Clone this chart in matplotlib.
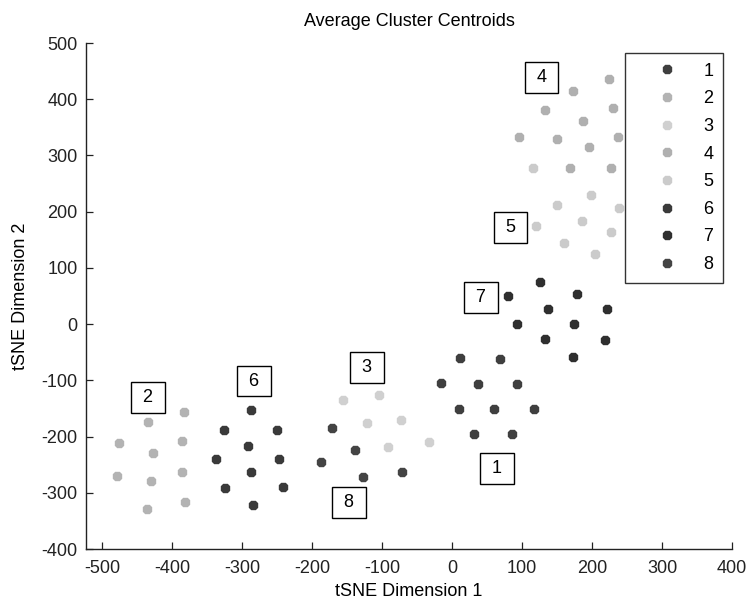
import matplotlib
matplotlib.use("Agg")
import matplotlib.pyplot as plt

# ---- data ----
cluster_names = ["1", "2", "3", "4", "5", "6", "7", "8"]
colors = ["#3f3f3f", "#b3b3b3", "#d0d0d0", "#b0b0b0", "#cbcbcb", "#3a3a3a", "#2f2f2f", "#444444"]

x1 = [11.4, 68.6, -16.1, 37.6, 92.4, 10.4, 60.4, 117.6, 31.4, 85.7]
y1 = [-60.8, -62.6, -105.3, -107.1, -107.1, -151, -151, -151, -195.5, -195.5]

x2 = [-382.9, -433.9, -476.1, -385.3, -427.6, -478.1, -385.3, -430.0, -381.0, -435.7]
y2 = [-155.8, -173.6, -211.3, -208.0, -229.3, -269.7, -263.6, -279.1, -316.4, -329.4]

x3 = [-156.1, -103.9, -121.9, -73.3, -91.0, -32.9]
y3 = [-135.0, -126.1, -176.4, -170.6, -219.1, -210.2]

x4 = [223.9, 172.9, 132.9, 230.0, 187.6, 96.1, 149.6, 236.7, 196.1, 168.6, 227.6]
y4 = [436.0, 415.2, 380.8, 383.8, 361.8, 333.3, 328.7, 333.3, 314.5, 278.2, 278.2]

x5 = [115.3, 198.6, 149.6, 238.6, 120.0, 185.7, 227.6, 160.0, 204.3]
y5 = [278.2, 230.2, 211.8, 207.0, 175.0, 183.4, 164.4, 143.7, 124.7]

x6 = [-287.6, -325.7, -249.6, -291.4, -336.7, -247.1, -287.6, -323.9, -241.0, -283.9]
y6 = [-152.8, -187.8, -187.8, -216.3, -240.0, -240.0, -263.6, -292.1, -290.3, -321.8]

x7 = [125.7, 79.6, 179.0, 136.7, 221.9, 92.4, 174.7, 132.9, 219.0, 172.9]
y7 = [74.4, 50.5, 53.5, 26.3, 26.3, 0.7, 0.7, -26.0, -28.3, -58.0]

x8 = [-171.4, -138.6, -187.6, -126.7, -71.0]
y8 = [-185.3, -224.0, -245.8, -271.4, -263.6]

label_x = [64.7, -433.9, -121.9, 127.9, 83.6, -283.1, 41.4, -147.4]
label_y = [-257.4, -130.6, -77.7, 438.6, 171.5, -101.2, 46.8, -317.3]

xs = [x1, x2, x3, x4, x5, x6, x7, x8]
ys = [y1, y2, y3, y4, y5, y6, y7, y8]

x_ticks = [-500, -400, -300, -200, -100, 0, 100, 200, 300, 400]
y_ticks = [-400, -300, -200, -100, 0, 100, 200, 300, 400, 500]

# ---- fonts ----
plt.rcParams["font.family"] = ["Liberation Sans", "DejaVu Sans"]
plt.rcParams["axes.unicode_minus"] = False
fs = 13

W, H = 749, 605
fig = plt.figure(figsize=(W / 100, H / 100), dpi=100)
ax = fig.add_axes([86 / W, 1 - 549 / H, (732 - 86) / W, (549 - 43) / H])

for name, c, xv, yv in zip(cluster_names, colors, xs, ys):
    ax.plot(xv, yv, linestyle="none", marker="8", markersize=6.0,
            color=c, markeredgecolor=c, label=name)

for name, lx, ly in zip(cluster_names, label_x, label_y):
    ax.text(lx, ly, " " + name + " ", ha="center", va="center", fontsize=fs,
            bbox=dict(boxstyle="square,pad=0.38", fc="white", ec="black", lw=1.0))

ax.set_xlim(-523, 400)
ax.set_ylim(-400, 500)
ax.set_xticks(x_ticks)
ax.set_yticks(y_ticks)
ax.tick_params(direction="in", length=4.7, width=0.9, labelsize=fs, pad=8, colors="#222222")
ax.tick_params(axis="y", pad=6)
for s in ["top", "right"]:
    ax.spines[s].set_visible(False)
for s in ["left", "bottom"]:
    ax.spines[s].set_linewidth(1.0)
    ax.spines[s].set_color("#222222")

ax.set_title("Average Cluster Centroids", fontsize=fs, pad=12)
ax.set_xlabel("tSNE Dimension 1", fontsize=fs, labelpad=4)
ax.set_ylabel("tSNE Dimension 2", fontsize=fs, labelpad=9)

leg = ax.legend(loc="upper left", bbox_to_anchor=(625 / W, 1 - 53 / H),
                bbox_transform=fig.transFigure, borderaxespad=0,
                fontsize=fs, numpoints=1, handlelength=3.59, handletextpad=0.22,
                borderpad=0.53, labelspacing=0.59, fancybox=False, frameon=True)
leg.get_frame().set_edgecolor("black")
leg.get_frame().set_linewidth(1.0)

fig.savefig("out.png", dpi=100)
